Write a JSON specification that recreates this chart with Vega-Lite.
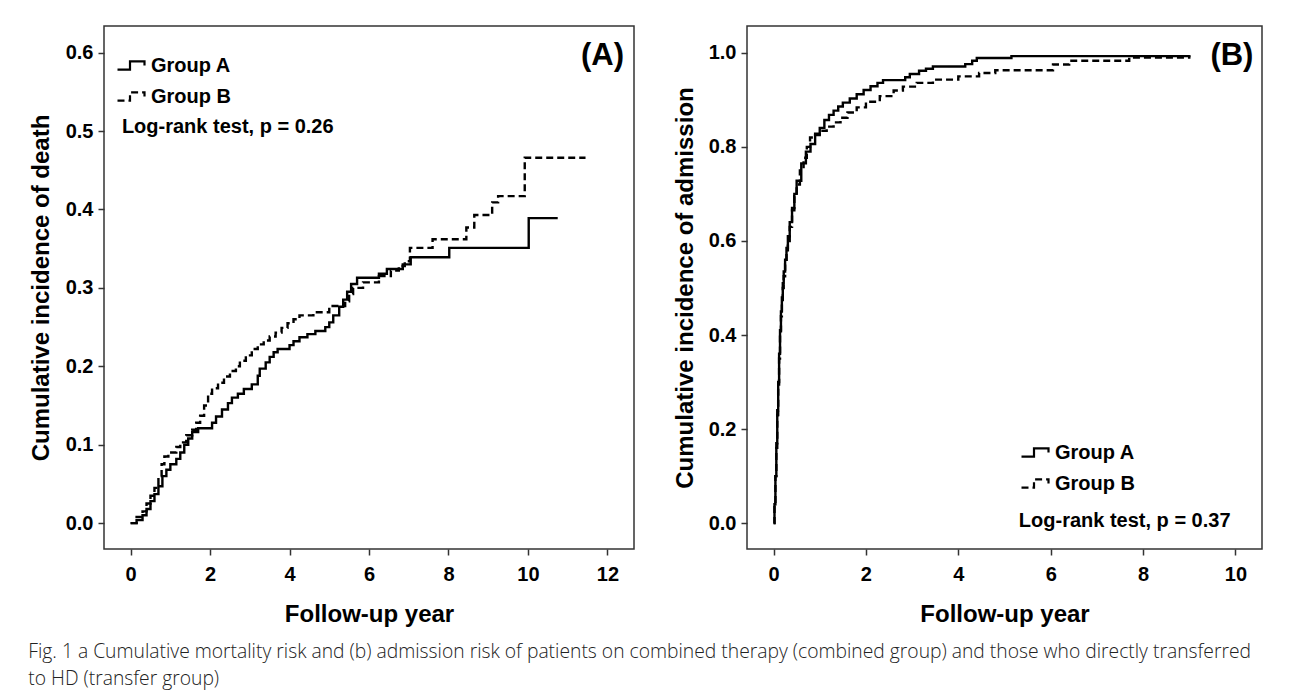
{
  "$schema": "https://vega.github.io/schema/vega-lite/v6.json",
  "padding": {"left": 28, "top": 25, "right": 5, "bottom": 5},
  "background": "white",
  "datasets": {
    "death": [
      {"group": "Group A", "year": 0, "incidence": 0},
      {"group": "Group A", "year": 0.15, "incidence": 0.004},
      {"group": "Group A", "year": 0.3, "incidence": 0.010},
      {"group": "Group A", "year": 0.4, "incidence": 0.018},
      {"group": "Group A", "year": 0.5, "incidence": 0.028},
      {"group": "Group A", "year": 0.6, "incidence": 0.037},
      {"group": "Group A", "year": 0.7, "incidence": 0.047},
      {"group": "Group A", "year": 0.8, "incidence": 0.060},
      {"group": "Group A", "year": 0.9, "incidence": 0.068},
      {"group": "Group A", "year": 1.0, "incidence": 0.075},
      {"group": "Group A", "year": 1.15, "incidence": 0.082},
      {"group": "Group A", "year": 1.25, "incidence": 0.090},
      {"group": "Group A", "year": 1.35, "incidence": 0.100},
      {"group": "Group A", "year": 1.45, "incidence": 0.108},
      {"group": "Group A", "year": 1.55, "incidence": 0.116},
      {"group": "Group A", "year": 1.7, "incidence": 0.121},
      {"group": "Group A", "year": 2.05, "incidence": 0.128},
      {"group": "Group A", "year": 2.15, "incidence": 0.136},
      {"group": "Group A", "year": 2.3, "incidence": 0.145},
      {"group": "Group A", "year": 2.45, "incidence": 0.153},
      {"group": "Group A", "year": 2.55, "incidence": 0.160},
      {"group": "Group A", "year": 2.7, "incidence": 0.165},
      {"group": "Group A", "year": 2.85, "incidence": 0.171},
      {"group": "Group A", "year": 3.05, "incidence": 0.177},
      {"group": "Group A", "year": 3.2, "incidence": 0.188},
      {"group": "Group A", "year": 3.25, "incidence": 0.197},
      {"group": "Group A", "year": 3.4, "incidence": 0.205},
      {"group": "Group A", "year": 3.5, "incidence": 0.212},
      {"group": "Group A", "year": 3.6, "incidence": 0.218},
      {"group": "Group A", "year": 3.7, "incidence": 0.222},
      {"group": "Group A", "year": 4.0, "incidence": 0.227},
      {"group": "Group A", "year": 4.1, "incidence": 0.232},
      {"group": "Group A", "year": 4.25, "incidence": 0.237},
      {"group": "Group A", "year": 4.45, "incidence": 0.241},
      {"group": "Group A", "year": 4.65, "incidence": 0.245},
      {"group": "Group A", "year": 4.9, "incidence": 0.250},
      {"group": "Group A", "year": 5.0, "incidence": 0.256},
      {"group": "Group A", "year": 5.1, "incidence": 0.265},
      {"group": "Group A", "year": 5.25, "incidence": 0.276},
      {"group": "Group A", "year": 5.35, "incidence": 0.285},
      {"group": "Group A", "year": 5.45, "incidence": 0.295},
      {"group": "Group A", "year": 5.55, "incidence": 0.305},
      {"group": "Group A", "year": 5.7, "incidence": 0.313},
      {"group": "Group A", "year": 6.25, "incidence": 0.318},
      {"group": "Group A", "year": 6.45, "incidence": 0.324},
      {"group": "Group A", "year": 6.85, "incidence": 0.330},
      {"group": "Group A", "year": 7.05, "incidence": 0.339},
      {"group": "Group A", "year": 8.02, "incidence": 0.351},
      {"group": "Group A", "year": 10.02, "incidence": 0.389},
      {"group": "Group A", "year": 10.75, "incidence": 0.389},
      {"group": "Group B", "year": 0, "incidence": 0},
      {"group": "Group B", "year": 0.15, "incidence": 0.008},
      {"group": "Group B", "year": 0.3, "incidence": 0.015},
      {"group": "Group B", "year": 0.4, "incidence": 0.025},
      {"group": "Group B", "year": 0.5, "incidence": 0.035},
      {"group": "Group B", "year": 0.6, "incidence": 0.045},
      {"group": "Group B", "year": 0.7, "incidence": 0.060},
      {"group": "Group B", "year": 0.78, "incidence": 0.075},
      {"group": "Group B", "year": 0.85, "incidence": 0.085},
      {"group": "Group B", "year": 0.95, "incidence": 0.090},
      {"group": "Group B", "year": 1.15, "incidence": 0.097},
      {"group": "Group B", "year": 1.25, "incidence": 0.103},
      {"group": "Group B", "year": 1.4, "incidence": 0.112},
      {"group": "Group B", "year": 1.55, "incidence": 0.119},
      {"group": "Group B", "year": 1.65, "incidence": 0.128},
      {"group": "Group B", "year": 1.75, "incidence": 0.137},
      {"group": "Group B", "year": 1.85, "incidence": 0.150},
      {"group": "Group B", "year": 1.95, "incidence": 0.165},
      {"group": "Group B", "year": 2.05, "incidence": 0.172},
      {"group": "Group B", "year": 2.2, "incidence": 0.179},
      {"group": "Group B", "year": 2.35, "incidence": 0.187},
      {"group": "Group B", "year": 2.5, "incidence": 0.194},
      {"group": "Group B", "year": 2.65, "incidence": 0.200},
      {"group": "Group B", "year": 2.75, "incidence": 0.207},
      {"group": "Group B", "year": 2.9, "incidence": 0.214},
      {"group": "Group B", "year": 3.05, "incidence": 0.222},
      {"group": "Group B", "year": 3.2, "incidence": 0.228},
      {"group": "Group B", "year": 3.35, "incidence": 0.233},
      {"group": "Group B", "year": 3.5, "incidence": 0.238},
      {"group": "Group B", "year": 3.65, "incidence": 0.243},
      {"group": "Group B", "year": 3.8, "incidence": 0.249},
      {"group": "Group B", "year": 3.95, "incidence": 0.255},
      {"group": "Group B", "year": 4.1, "incidence": 0.260},
      {"group": "Group B", "year": 4.25, "incidence": 0.265},
      {"group": "Group B", "year": 4.6, "incidence": 0.269},
      {"group": "Group B", "year": 5.0, "incidence": 0.277},
      {"group": "Group B", "year": 5.4, "incidence": 0.283},
      {"group": "Group B", "year": 5.5, "incidence": 0.292},
      {"group": "Group B", "year": 5.6, "incidence": 0.300},
      {"group": "Group B", "year": 5.85, "incidence": 0.307},
      {"group": "Group B", "year": 6.25, "incidence": 0.315},
      {"group": "Group B", "year": 6.55, "incidence": 0.322},
      {"group": "Group B", "year": 6.75, "incidence": 0.328},
      {"group": "Group B", "year": 6.9, "incidence": 0.334},
      {"group": "Group B", "year": 7.03, "incidence": 0.351},
      {"group": "Group B", "year": 7.6, "incidence": 0.362},
      {"group": "Group B", "year": 8.45, "incidence": 0.377},
      {"group": "Group B", "year": 8.65, "incidence": 0.393},
      {"group": "Group B", "year": 9.1, "incidence": 0.409},
      {"group": "Group B", "year": 9.25, "incidence": 0.417},
      {"group": "Group B", "year": 9.92, "incidence": 0.466},
      {"group": "Group B", "year": 11.45, "incidence": 0.466}
    ],
    "admission": [
      {"group": "Group A", "year": 0, "incidence": 0},
      {"group": "Group A", "year": 0.02, "incidence": 0.04},
      {"group": "Group A", "year": 0.04, "incidence": 0.10},
      {"group": "Group A", "year": 0.06, "incidence": 0.17},
      {"group": "Group A", "year": 0.08, "incidence": 0.24},
      {"group": "Group A", "year": 0.1, "incidence": 0.30},
      {"group": "Group A", "year": 0.12, "incidence": 0.36},
      {"group": "Group A", "year": 0.14, "incidence": 0.41},
      {"group": "Group A", "year": 0.16, "incidence": 0.45},
      {"group": "Group A", "year": 0.18, "incidence": 0.48},
      {"group": "Group A", "year": 0.2, "incidence": 0.51},
      {"group": "Group A", "year": 0.22, "incidence": 0.535},
      {"group": "Group A", "year": 0.25, "incidence": 0.56},
      {"group": "Group A", "year": 0.28, "incidence": 0.585},
      {"group": "Group A", "year": 0.31, "incidence": 0.61},
      {"group": "Group A", "year": 0.35, "incidence": 0.64},
      {"group": "Group A", "year": 0.4, "incidence": 0.67},
      {"group": "Group A", "year": 0.45, "incidence": 0.70},
      {"group": "Group A", "year": 0.5, "incidence": 0.728},
      {"group": "Group A", "year": 0.6, "incidence": 0.765},
      {"group": "Group A", "year": 0.7, "incidence": 0.79},
      {"group": "Group A", "year": 0.8, "incidence": 0.806},
      {"group": "Group A", "year": 0.9, "incidence": 0.825},
      {"group": "Group A", "year": 1.0, "incidence": 0.84},
      {"group": "Group A", "year": 1.1, "incidence": 0.857},
      {"group": "Group A", "year": 1.2, "incidence": 0.868},
      {"group": "Group A", "year": 1.3, "incidence": 0.877},
      {"group": "Group A", "year": 1.4, "incidence": 0.886},
      {"group": "Group A", "year": 1.5, "incidence": 0.894},
      {"group": "Group A", "year": 1.65, "incidence": 0.903},
      {"group": "Group A", "year": 1.8, "incidence": 0.912},
      {"group": "Group A", "year": 1.95, "incidence": 0.921},
      {"group": "Group A", "year": 2.1, "incidence": 0.929},
      {"group": "Group A", "year": 2.25, "incidence": 0.936},
      {"group": "Group A", "year": 2.37, "incidence": 0.942},
      {"group": "Group A", "year": 2.85, "incidence": 0.948},
      {"group": "Group A", "year": 2.95, "incidence": 0.955},
      {"group": "Group A", "year": 3.15, "incidence": 0.962},
      {"group": "Group A", "year": 3.3, "incidence": 0.966},
      {"group": "Group A", "year": 3.45, "incidence": 0.971},
      {"group": "Group A", "year": 4.15, "incidence": 0.976},
      {"group": "Group A", "year": 4.3, "incidence": 0.983},
      {"group": "Group A", "year": 4.4, "incidence": 0.989},
      {"group": "Group A", "year": 5.15, "incidence": 0.993},
      {"group": "Group A", "year": 9.0, "incidence": 0.995},
      {"group": "Group B", "year": 0, "incidence": 0},
      {"group": "Group B", "year": 0.02, "incidence": 0.04},
      {"group": "Group B", "year": 0.04, "incidence": 0.10},
      {"group": "Group B", "year": 0.06, "incidence": 0.16},
      {"group": "Group B", "year": 0.08, "incidence": 0.23},
      {"group": "Group B", "year": 0.1, "incidence": 0.29},
      {"group": "Group B", "year": 0.12, "incidence": 0.35},
      {"group": "Group B", "year": 0.14, "incidence": 0.40},
      {"group": "Group B", "year": 0.16, "incidence": 0.44},
      {"group": "Group B", "year": 0.18, "incidence": 0.47},
      {"group": "Group B", "year": 0.2, "incidence": 0.50},
      {"group": "Group B", "year": 0.22, "incidence": 0.525},
      {"group": "Group B", "year": 0.25, "incidence": 0.55},
      {"group": "Group B", "year": 0.28, "incidence": 0.575},
      {"group": "Group B", "year": 0.31, "incidence": 0.60},
      {"group": "Group B", "year": 0.35, "incidence": 0.63},
      {"group": "Group B", "year": 0.4, "incidence": 0.665},
      {"group": "Group B", "year": 0.45, "incidence": 0.695},
      {"group": "Group B", "year": 0.5, "incidence": 0.72},
      {"group": "Group B", "year": 0.57, "incidence": 0.75},
      {"group": "Group B", "year": 0.65, "incidence": 0.777},
      {"group": "Group B", "year": 0.72, "incidence": 0.80},
      {"group": "Group B", "year": 0.79, "incidence": 0.82},
      {"group": "Group B", "year": 0.9, "incidence": 0.828},
      {"group": "Group B", "year": 1.0, "incidence": 0.834},
      {"group": "Group B", "year": 1.15, "incidence": 0.843},
      {"group": "Group B", "year": 1.3, "incidence": 0.852},
      {"group": "Group B", "year": 1.45, "incidence": 0.862},
      {"group": "Group B", "year": 1.6, "incidence": 0.873},
      {"group": "Group B", "year": 1.8, "incidence": 0.884},
      {"group": "Group B", "year": 2.0, "incidence": 0.896},
      {"group": "Group B", "year": 2.3, "incidence": 0.908},
      {"group": "Group B", "year": 2.6, "incidence": 0.920},
      {"group": "Group B", "year": 2.8, "incidence": 0.928},
      {"group": "Group B", "year": 3.1, "incidence": 0.936},
      {"group": "Group B", "year": 3.45, "incidence": 0.943},
      {"group": "Group B", "year": 4.0, "incidence": 0.950},
      {"group": "Group B", "year": 4.45, "incidence": 0.957},
      {"group": "Group B", "year": 4.8, "incidence": 0.963},
      {"group": "Group B", "year": 6.05, "incidence": 0.975},
      {"group": "Group B", "year": 6.4, "incidence": 0.983},
      {"group": "Group B", "year": 7.7, "incidence": 0.990},
      {"group": "Group B", "year": 9.0, "incidence": 0.995}
    ]
  },
  "title": {
    "text": ["Fig. 1 a Cumulative mortality risk and (b) admission risk of patients on combined therapy (combined group) and those who directly transferred", "to HD (transfer group)"],
    "orient": "bottom",
    "anchor": "start",
    "font": "Open Sans",
    "fontSize": 19.3,
    "fontWeight": 300,
    "color": "#222",
    "lineHeight": 27,
    "offset": 16
  },
  "spacing": 113,
  "bounds": "flush",
  "resolve": {"scale": {"strokeDash": "independent"}, "legend": {"strokeDash": "independent"}},
  "hconcat": [
    {
      "width": 530,
      "height": 523,
      "layer": [
        {
          "data": {"name": "death"},
          "mark": {"type": "line", "interpolate": "step-after", "color": "black", "strokeWidth": 2.4},
          "encoding": {
            "x": {"field": "year", "type": "quantitative",
                  "scale": {"domain": [-0.67, 12.67], "nice": false, "zero": false},
                  "axis": {"values": [0, 2, 4, 6, 8, 10, 12], "title": "Follow-up year", "titleX": 265, "titleY": 65}},
            "y": {"field": "incidence", "type": "quantitative",
                  "scale": {"domain": [-0.033, 0.634], "nice": false, "zero": false},
                  "axis": {"values": [0, 0.1, 0.2, 0.3, 0.4, 0.5, 0.6], "format": ".1f", "title": "Cumulative incidence of death", "titleX": -63, "titleY": 261.5}},
            "strokeDash": {"field": "group", "type": "nominal",
                  "scale": {"domain": ["Group A", "Group B"], "range": [[1, 0], [7, 4]]},
                  "legend": {"orient": "none", "legendX": 17, "legendY": 28, "title": null,
                             "symbolType": "M-1.5,0.42H-0.25V-0.42H1.2V0", "symbolSize": 400,
                             "symbolStrokeWidth": 2.2, "symbolStrokeColor": "black", "symbolFillColor": "transparent",
                             "labelFont": "Liberation Sans", "labelFontWeight": "bold", "labelFontSize": 20,
                             "labelColor": "black", "labelOffset": 7, "rowPadding": 9, "padding": 0}}
          }
        },
        {
          "data": {"values": [{"label": "(A)"}]},
          "mark": {"type": "text", "align": "right", "baseline": "middle", "font": "Liberation Sans", "fontWeight": "bold", "fontSize": 31, "color": "black"},
          "encoding": {"x": {"datum": 12.42}, "y": {"datum": 0.596}, "text": {"field": "label"}}
        },
        {
          "data": {"values": [{"label": "Log-rank test, p = 0.26"}]},
          "mark": {"type": "text", "align": "left", "baseline": "middle", "font": "Liberation Sans", "fontWeight": "bold", "fontSize": 20, "color": "black"},
          "encoding": {"x": {"datum": -0.22}, "y": {"datum": 0.5056}, "text": {"field": "label"}}
        }
      ]
    },
    {
      "width": 515,
      "height": 523,
      "layer": [
        {
          "data": {"name": "admission"},
          "mark": {"type": "line", "interpolate": "step-after", "color": "black", "strokeWidth": 2.4},
          "encoding": {
            "x": {"field": "year", "type": "quantitative",
                  "scale": {"domain": [-0.575, 10.575], "nice": false, "zero": false},
                  "axis": {"values": [0, 2, 4, 6, 8, 10], "title": "Follow-up year", "titleX": 257.5, "titleY": 65}},
            "y": {"field": "incidence", "type": "quantitative",
                  "scale": {"domain": [-0.055, 1.057], "nice": false, "zero": false},
                  "axis": {"values": [0, 0.2, 0.4, 0.6, 0.8, 1.0], "format": ".1f", "title": "Cumulative incidence of admission", "titleX": -62, "titleY": 261.5}},
            "strokeDash": {"field": "group", "type": "nominal",
                  "scale": {"domain": ["Group A", "Group B"], "range": [[1, 0], [7, 4]]},
                  "legend": {"orient": "none", "legendX": 278, "legendY": 415, "title": null,
                             "symbolType": "M-1.5,0.42H-0.25V-0.42H1.2V0", "symbolSize": 400,
                             "symbolStrokeWidth": 2.2, "symbolStrokeColor": "black", "symbolFillColor": "transparent",
                             "labelFont": "Liberation Sans", "labelFontWeight": "bold", "labelFontSize": 20,
                             "labelColor": "black", "labelOffset": 7, "rowPadding": 9, "padding": 0}}
          }
        },
        {
          "data": {"values": [{"label": "(B)"}]},
          "mark": {"type": "text", "align": "right", "baseline": "middle", "font": "Liberation Sans", "fontWeight": "bold", "fontSize": 31, "color": "black"},
          "encoding": {"x": {"datum": 10.39}, "y": {"datum": 0.9936}, "text": {"field": "label"}}
        },
        {
          "data": {"values": [{"label": "Log-rank test, p = 0.37"}]},
          "mark": {"type": "text", "align": "left", "baseline": "middle", "font": "Liberation Sans", "fontWeight": "bold", "fontSize": 20, "color": "black"},
          "encoding": {"x": {"datum": 5.31}, "y": {"datum": 0.0043}, "text": {"field": "label"}}
        }
      ]
    }
  ],
  "config": {
    "view": {"stroke": "#333", "strokeWidth": 1.5},
    "axis": {
      "domain": false, "grid": false, "ticks": true, "tickSize": 6, "tickWidth": 1.5, "tickColor": "#333",
      "labelFont": "Liberation Sans", "labelFontWeight": "bold", "labelFontSize": 20, "labelColor": "black",
      "titleFont": "Liberation Sans", "titleFontWeight": "bold", "titleFontSize": 24, "titleColor": "black",
      "titleBaseline": "middle", "titleAlign": "center"
    },
    "axisX": {"labelPadding": 9},
    "axisY": {"labelPadding": 5}
  }
}
